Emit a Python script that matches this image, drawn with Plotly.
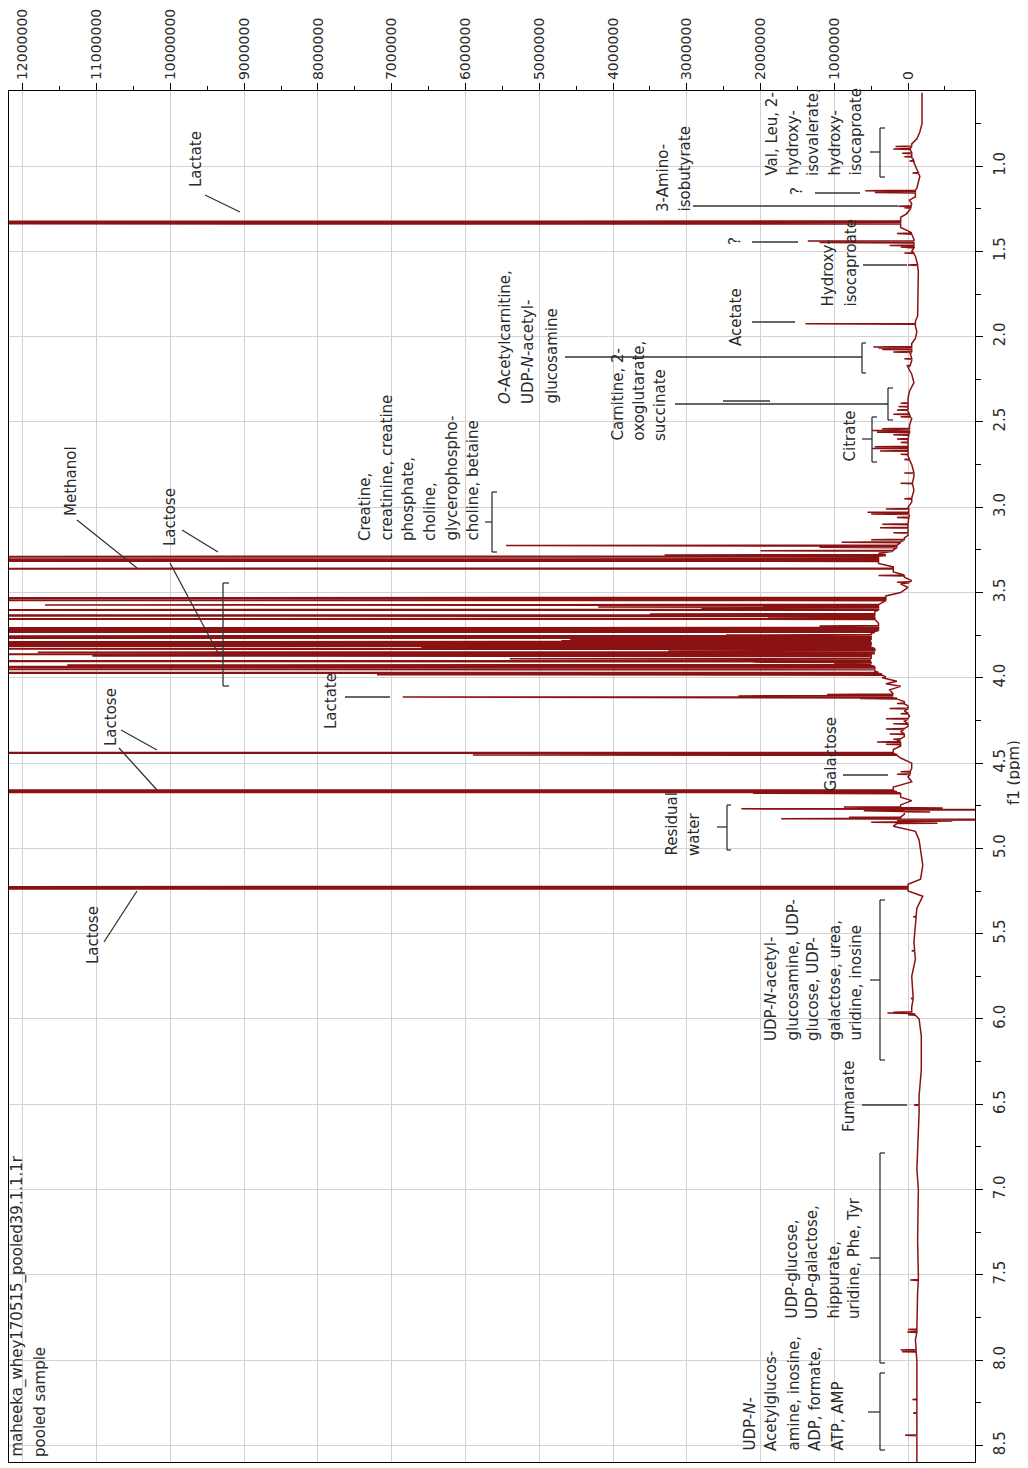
import numpy as np
import plotly.graph_objects as go

# ---------------- DATA (ppm, intensity in millions) ----------------
# baseline points of the spectrum, region by region
base_ppm_a = [0.57, 0.75, 0.80, 0.84, 0.87, 0.95, 0.98, 1.02, 1.06, 1.10, 1.13, 1.18, 1.20, 1.22, 1.28,
              1.30, 1.36, 1.38, 1.40, 1.43, 1.48, 1.50, 1.53, 1.56, 1.62, 1.75, 1.88, 1.91, 1.94, 1.97]
base_int_a = [-0.19, -0.19, -0.16, -0.12, -0.05, -0.05, -0.08, -0.12, -0.16, -0.14, -0.12, -0.10, -0.02, -0.05, 0.02,
              0.10, 0.10, 0.0, -0.05, -0.08, -0.08, -0.05, -0.10, -0.12, -0.14, -0.14, -0.13, -0.10, -0.10, -0.12]

base_ppm_b = [2.01, 2.04, 2.10, 2.14, 2.18, 2.22, 2.27, 2.32, 2.36, 2.44, 2.48, 2.52, 2.61, 2.70, 2.75, 2.82, 2.85,
              2.90, 2.97, 3.00, 3.05, 3.08, 3.165, 3.18, 3.20, 3.25, 3.27, 3.33, 3.35, 3.38, 3.41, 3.43, 3.45, 3.47, 3.50]
base_int_b = [-0.10, -0.05, -0.03, -0.05, 0.0, -0.05, -0.08, -0.02, 0.0, 0.0, -0.05, -0.02, 0.0, 0.0, -0.05, -0.08, -0.06,
              -0.08, -0.05, 0.0, -0.02, 0.0, 0.0, 0.05, 0.10, 0.20, 0.40, 0.40, 0.20, 0.20, 0.05, -0.05, 0.10, 0.0, 0.10]

base_ppm_c = [3.52, 3.61, 3.68, 3.74, 3.84, 3.88, 3.96, 3.995, 4.00, 4.02, 4.035, 4.05, 4.07, 4.09, 4.14, 4.165,
              4.195, 4.225, 4.255, 4.285, 4.315, 4.345, 4.37, 4.40, 4.42]
base_int_c = [0.30, 0.45, 0.40, 0.50, 0.45, 0.50, 0.45, 0.30, 0.35, 0.15, 0.30, 0.10, 0.25, 0.20, 0.05, 0.00,
              0.05, -0.02, 0.05, 0.00, 0.10, 0.05, 0.15, 0.10, 0.20]

base_ppm_d = [4.47, 4.50, 4.53, 4.58, 4.61, 4.64, 4.70, 4.72, 4.745, 4.80, 4.87, 4.90, 4.95, 5.00, 5.10, 5.18,
              5.21, 5.25, 5.28]
base_int_d = [0.10, -0.05, -0.05, 0.00, -0.05, 0.20, 0.10, -0.05, 0.10, 0.05, 0.20, -0.10, -0.15, -0.17, -0.20, -0.17,
              0.0, 0.0, -0.20]

base_ppm_e = [5.35, 5.45, 5.55, 5.65, 5.75, 5.85, 5.93, 6.00, 6.10, 6.30, 6.45, 6.55, 6.70, 6.88, 7.00, 7.30, 7.50,
              7.60, 7.80, 7.88, 8.00, 8.20, 8.35, 8.50, 8.60]
base_int_e = [-0.12, -0.10, -0.08, -0.10, -0.05, -0.07, -0.05, -0.15, -0.18, -0.18, -0.15, -0.15, -0.14, -0.12, -0.14,
              -0.13, -0.14, -0.13, -0.12, -0.10, -0.12, -0.12, -0.12, -0.12, -0.12]

# peaks: position (ppm), tip intensity, foot intensity (millions)
peak_ppm_aliph = [0.885, 0.900, 0.925, 0.945, 0.970, 1.040, 1.145, 1.155, 1.235, 1.245, 1.325, 1.337, 1.395,
                  1.440, 1.448, 1.465, 1.475, 1.510, 1.580, 1.925, 2.060, 2.067, 2.075, 2.090, 2.130, 2.170,
                  2.390, 2.410, 2.430, 2.455, 2.470, 2.540, 2.550, 2.560, 2.575, 2.600, 2.620, 2.645, 2.655,
                  2.670, 2.690, 2.720, 2.800, 2.860, 2.950, 3.010, 3.030, 3.040, 3.060, 3.100, 3.120, 3.150,
                  3.190, 3.205, 3.225, 3.235, 3.255, 3.280, 3.290, 3.305, 3.315, 3.360, 3.400, 3.440]
peak_top_aliph = [0.17, 0.20, 0.08, 0.05, -0.02, -0.06, 0.58, 0.45, 0.13, 0.05, 40, 40, 0.15,
                  1.36, 1.20, 0.25, 0.10, 0.05, 0.00, 1.39, 0.47, 0.40, 0.35, 0.20, 0.05, 0.02,
                  0.10, 0.13, 0.15, 0.20, 0.10, 0.35, 0.49, 0.42, 0.20, 0.15, 0.10, 0.45, 0.49,
                  0.38, 0.10, 0.05, 0.05, 0.10, 0.05, 0.30, 0.55, 0.50, 0.15, 0.35, 0.38, 0.20,
                  0.50, 0.90, 5.45, 1.20, 2.00, 3.30, 40, 40, 20, 30, 0.40, 0.15]
peak_foot_aliph = [-0.05, -0.03, -0.05, -0.05, -0.08, -0.14, -0.10, -0.10, -0.04, -0.04, 0.10, 0.10, -0.05,
                   -0.08, -0.08, -0.08, -0.08, -0.08, -0.13, -0.10, -0.05, -0.05, -0.05, -0.05, -0.05, -0.03,
                   0.0, 0.0, 0.0, -0.02, -0.03, -0.02, -0.02, -0.02, -0.01, 0.0, 0.0, 0.0, 0.0,
                   0.0, 0.0, -0.02, -0.08, -0.06, -0.05, -0.01, -0.01, -0.01, -0.01, 0.0, 0.0, 0.0,
                   0.05, 0.10, 0.15, 0.15, 0.20, 0.30, 0.40, 0.40, 0.40, 0.20, 0.05, -0.02]

peak_ppm_sugar = [3.532, 3.545, 3.573, 3.585, 3.592, 3.602, 3.626, 3.634, 3.642, 3.655, 3.696, 3.708, 3.720,
                  3.731, 3.749, 3.756, 3.766, 3.776, 3.782, 3.790, 3.800, 3.810, 3.819, 3.830, 3.843, 3.850,
                  3.856, 3.862, 3.872, 3.888, 3.895, 3.902, 3.908, 3.916, 3.925, 3.936, 3.950, 3.971, 3.982,
                  4.098, 4.106, 4.113, 4.121, 4.150, 4.180, 4.210, 4.240, 4.270, 4.300, 4.330, 4.360, 4.376,
                  4.390, 4.440, 4.452, 4.550, 4.565, 4.660, 4.670, 4.677]
peak_top_sugar = [40, 30, 11.7, 4.2, 2.8, 40, 3.5, 40, 1.9, 40, 1.2, 40, 40,
                  40, 2.47, 40, 40, 4.58, 4.7, 40, 40, 40, 6.6, 40, 3.25, 11.8,
                  3.07, 40, 11.06, 5.4, 1.46, 40, 2.1, 1.0, 11.4, 40, 40, 40, 7.2,
                  1.1, 2.3, 6.85, 0.65, 0.15, 0.25, 0.10, 0.30, 0.20, 0.30, 0.25, 0.20, 0.42,
                  0.30, 40, 5.9, 0.10, 0.15, 40, 40, 2.1]
peak_foot_sugar = [0.3, 0.3, 0.4, 0.4, 0.4, 0.4, 0.45, 0.45, 0.45, 0.45, 0.4, 0.4, 0.4,
                   0.45, 0.5, 0.5, 0.5, 0.5, 0.5, 0.5, 0.5, 0.5, 0.5, 0.45, 0.45, 0.45,
                   0.45, 0.5, 0.5, 0.5, 0.5, 0.5, 0.5, 0.5, 0.5, 0.45, 0.45, 0.4, 0.35,
                   0.2, 0.2, 0.2, 0.15, 0.05, 0.0, 0.0, 0.0, 0.0, 0.05, 0.05, 0.1, 0.1,
                   0.1, 0.2, 0.15, -0.03, -0.03, 0.2, 0.15, 0.1]

peak_ppm_water = [4.758, 4.763, 4.768, 4.773, 4.780, 4.786, 4.818, 4.826, 4.832, 4.840, 4.846, 4.852,
                  5.226, 5.236]
peak_top_water = [0.87, -0.47, 2.26, -3.0, 0.60, -0.30, 0.80, 1.72, -3.0, -0.60, 0.50, -0.40,
                  40, 40]
peak_foot_water = [0.1, 0.1, 0.1, 0.1, 0.05, 0.05, 0.1, 0.1, 0.1, 0.15, 0.15, 0.15,
                   0.0, 0.0]

peak_ppm_arom = [5.40, 5.60, 5.88, 5.960, 5.965, 5.975, 6.504, 7.530, 7.820, 7.835, 7.940, 7.950,
                 8.230, 8.310, 8.440]
peak_top_arom = [-0.07, -0.05, -0.04, 0.20, 0.28, 0.00, -0.08, -0.03, 0.00, 0.01, 0.10, 0.08,
                 -0.06, -0.07, 0.04]
peak_foot_arom = [-0.11, -0.09, -0.07, -0.05, -0.05, -0.10, -0.15, -0.14, -0.12, -0.12, -0.11, -0.11,
                  -0.12, -0.12, -0.12]

x_ticks = [0, 1e6, 2e6, 3e6, 4e6, 5e6, 6e6, 7e6, 8e6, 9e6, 10e6, 11e6, 12e6]
y_ticks = [1.0, 1.5, 2.0, 2.5, 3.0, 3.5, 4.0, 4.5, 5.0, 5.5, 6.0, 6.5, 7.0, 7.5, 8.0, 8.5]

# ---------------- build spectrum polyline ----------------
HW = 0.0025  # half width of a drawn spike (ppm)
pts = []
for bp, bi in [(base_ppm_a, base_int_a), (base_ppm_b, base_int_b), (base_ppm_c, base_int_c),
               (base_ppm_d, base_int_d), (base_ppm_e, base_int_e)]:
    pts += list(zip(bp, bi))
for pp, pt, pf in [(peak_ppm_aliph, peak_top_aliph, peak_foot_aliph),
                   (peak_ppm_sugar, peak_top_sugar, peak_foot_sugar),
                   (peak_ppm_water, peak_top_water, peak_foot_water),
                   (peak_ppm_arom, peak_top_arom, peak_foot_arom)]:
    for p, t, f in zip(pp, pt, pf):
        pts += [(p - HW, f), (p, t), (p + HW, f)]
pts.sort(key=lambda q: q[0])
spec_ppm = np.array([q[0] for q in pts])
spec_int = np.array([q[1] for q in pts]) * 1e6

# ---------------- layout geometry (page pixels; body margin of 8 px) ----------------
PAGE_W, PAGE_H, BODY = 1028, 1468, 8
L, R, T, B = 9, 975, 91, 1462
XR = [12.189e6, -0.908e6]
YR = [8.597, 0.560]


def X(px):
    return XR[0] + (px - L) / (R - L) * (XR[1] - XR[0])


def Y(py):
    return YR[1] + (py - T) / (B - T) * (YR[0] - YR[1])


fig = go.Figure()
fig.add_trace(go.Scatter(x=spec_int, y=spec_ppm, mode='lines',
                         line=dict(color='#8a1212', width=1.5), hoverinfo='skip', showlegend=False))

FONT = dict(family='DejaVu Sans', size=15, color='#2a2a2a')
anns = []


def label(lines, x_first, y_bottom, step=21.5):
    for i, t in enumerate(lines):
        anns.append(dict(x=X(x_first + i * step), y=Y(y_bottom), xref='x', yref='y', text=t,
                         textangle=-90, xanchor='center', yanchor='bottom', showarrow=False,
                         font=FONT, borderpad=0))


label(['Lactate'], 196, 188)
label(['Methanol'], 71, 517)
label(['Lactose'], 170, 547)
label(['Lactose'], 111, 747)
label(['Lactose'], 93, 965)
label(['Lactate'], 331, 730)
label(['Creatine,', 'creatinine, creatine', 'phosphate,', 'choline,', 'glycerophospho-', 'choline, betaine'],
      365, 542)
label(['<i>O</i>-Acetylcarnitine,', 'UDP-<i>N</i>-acetyl-', 'glucosamine'], 505, 405, 23)
label(['Carnitine, 2-', 'oxoglutarate,', 'succinate'], 617, 442)
label(['Citrate'], 849, 463)
label(['Acetate'], 736, 347)
label(['Hydroxy-', 'isocaproate'], 827, 308, 23)
label(['?'], 797, 196)
label(['?'], 735, 246)
label(['3-Amino-', 'isobutyrate'], 663, 213, 21)
label(['Val, Leu, 2-', 'hydroxy-', 'isovalerate,', 'hydroxy-', 'isocaproate'], 771, 177, 21)
label(['Galactose'], 830, 793)
label(['Residual', 'water'], 671, 857, 23)
label(['UDP-<i>N</i>-acetyl-', 'glucosamine, UDP-', 'glucose, UDP-', 'galactose, urea,', 'uridine, inosine'],
      771, 1042, 21)
label(['Fumarate'], 849, 1133)
label(['UDP-glucose,', 'UDP-galactose,', 'hippurate,', 'uridine, Phe, Tyr'], 791, 1320, 21)
label(['UDP-<i>N</i>-', 'Acetylglucos-', 'amine, inosine,', 'ADP, formate,', 'ATP, AMP'], 749, 1452, 22)
label(['maheeka_whey170515_pooled39.1.1.1r', 'pooled sample'], 17, 1458, 23)

# axis title on the right
anns.append(dict(x=(1014 - L) / (R - L), y=(B - 773) / (B - T), xref='paper', yref='paper', text='f1 (ppm)',
                 textangle=-90, xanchor='center', yanchor='middle', showarrow=False, font=FONT, borderpad=0))

shapes = []
LINE = dict(color='#333333', width=1.3)


def seg(x0, y0, x1, y1):
    shapes.append(dict(type='line', xref='x', yref='y', x0=X(x0), y0=Y(y0), x1=X(x1), y1=Y(y1), line=LINE,
                       layer='above'))


def bracket(x, y0, y1, tick=5, mid=None):
    seg(x + tick, y0, x, y0)
    seg(x, y0, x, y1)
    seg(x, y1, x + tick, y1)
    if mid is not None:
        seg(mid[0], mid[1], x, mid[1])


# pointer lines
seg(205, 195, 240, 212)
seg(77, 520, 137, 568)
seg(182, 530, 218, 552)
seg(170, 563, 218, 653)
seg(121, 730, 157, 750)
seg(119, 748, 157, 790)
seg(104, 942, 137, 891)
seg(345, 697, 390, 697)
seg(565, 357, 862, 357)
seg(675, 404, 888, 404)
seg(723, 401, 770, 401)
seg(752, 322, 795, 322)
seg(863, 265, 907, 265)
seg(815, 193, 860, 193)
seg(752, 242, 798, 242)
seg(693, 206, 898, 206)
seg(843, 775, 888, 775)
seg(862, 1105, 907, 1105)

# brackets
bracket(223, 583, 686, 6)
bracket(492, 492, 552, 5, (485, 522))
bracket(862, 343, 373, 4)
bracket(888, 388, 420, 5)
bracket(872, 417, 462, 5, (862, 439))
bracket(880, 128, 177, 5, (870, 152))
bracket(727, 805, 850, 4, (717, 827))
bracket(880, 900, 1060, 5, (870, 980))
bracket(880, 1153, 1363, 5, (870, 1258))
bracket(880, 1373, 1450, 5, (868, 1412))

TICKFONT_TOP = dict(family='DejaVu Sans', size=14, color='#2a2a2a')

fig.update_layout(
    width=PAGE_W - BODY, height=PAGE_H - BODY,
    margin=dict(l=L - BODY, r=PAGE_W - R, t=T - BODY, b=PAGE_H - B, pad=0, autoexpand=False),
    paper_bgcolor='white', plot_bgcolor='white',
    font=FONT,
    annotations=anns, shapes=shapes,
    showlegend=False,
    xaxis=dict(range=XR, side='top', tickvals=x_ticks, ticktext=[str(int(v)) for v in x_ticks],
               tickangle=-90, ticks='outside', ticklen=7, tickcolor='black', tickwidth=1,
               showline=True, linecolor='black', linewidth=1.3, mirror=True, automargin=False,
               showgrid=True, gridcolor='#d2d2d2', gridwidth=1.3, zeroline=False,
               ticklabelstandoff=0,
               minor=dict(dtick=5e5, tick0=0, ticks='outside', ticklen=4, tickcolor='black', showgrid=False),
               tickfont=TICKFONT_TOP),
    yaxis=dict(range=YR, side='right', tickvals=y_ticks, ticktext=['%.1f' % v for v in y_ticks],
               tickangle=-90, ticks='outside', ticklen=7, tickcolor='black', tickwidth=1,
               showline=True, linecolor='black', linewidth=1.3, mirror=True, automargin=False,
               showgrid=True, gridcolor='#d2d2d2', gridwidth=1.3, zeroline=False,
               ticklabelstandoff=4,
               minor=dict(dtick=0.25, tick0=0, ticks='outside', ticklen=5, tickcolor='black', showgrid=False),
               tickfont=FONT),
)

fig.write_html('out.html')
